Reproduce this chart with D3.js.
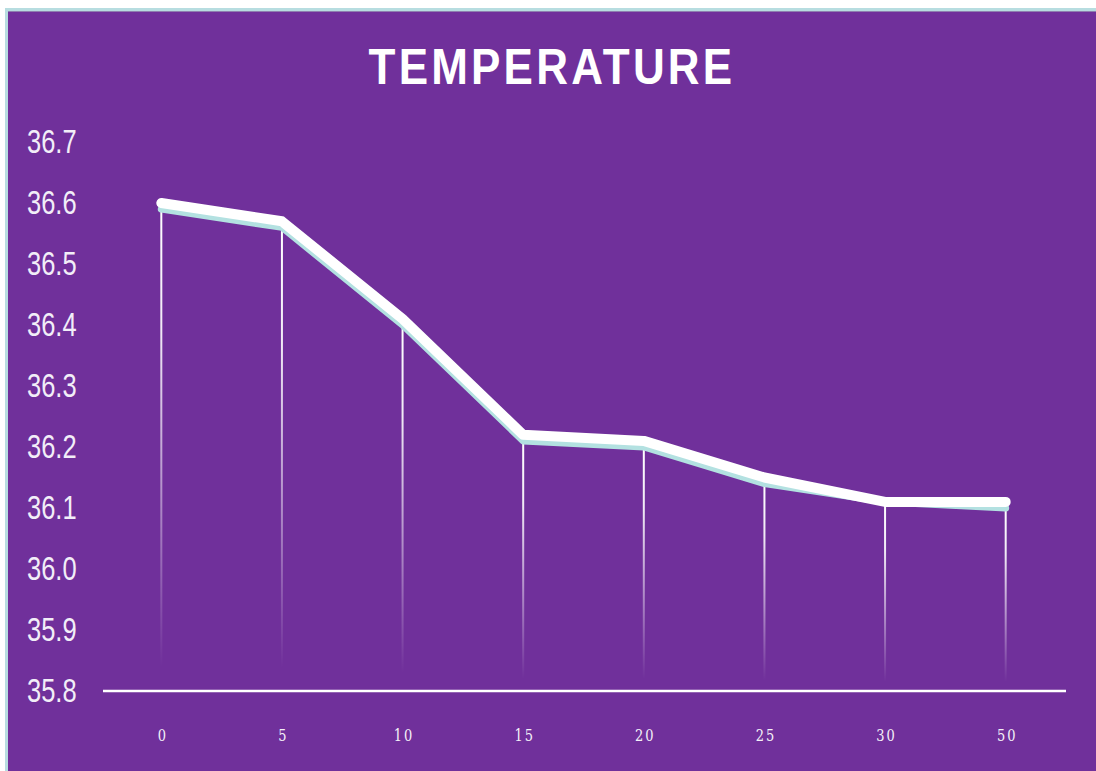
<!DOCTYPE html>
<html>
<head>
<meta charset="utf-8">
<script src="https://cdn.jsdelivr.net/npm/d3@7"></script>
<style>
  html, body { margin: 0; padding: 0; background: #ffffff; }
  svg { display: block; }
</style>
</head>
<body>
<div id="chart"></div>
<script>
// Sampling times (x categories)
const categories = ["0", "5", "10", "15", "20", "25", "30", "50"];
// Two temperature series
const seriesMain = [36.60, 36.57, 36.41, 36.22, 36.21, 36.15, 36.11, 36.11];
const seriesShadow = [36.59, 36.56, 36.40, 36.21, 36.20, 36.14, 36.11, 36.10];
// Y-axis tick labels
const yTicks = [35.8, 35.9, 36.0, 36.1, 36.2, 36.3, 36.4, 36.5, 36.6, 36.7];

const W = 1096, H = 771;
const svg = d3.select("#chart").append("svg").attr("width", W).attr("height", H);

// Frame: pale cyan edge on top and left, purple panel
svg.append("rect").attr("x", 5).attr("y", 8).attr("width", W - 5).attr("height", H - 8).attr("fill", "#b7dde0");
svg.append("rect").attr("x", 8).attr("y", 11).attr("width", W - 8).attr("height", H - 11).attr("fill", "#70309b");
svg.append("rect").attr("x", 8).attr("y", 11).attr("width", W - 8).attr("height", 1).attr("fill", "#8f7fb0");

const x = d3.scalePoint().domain(categories).range([101, 1066]).padding(0.5);
const y = d3.scaleLinear().domain([35.8, 36.7]).range([691, 142]);

// Title
svg.append("text")
  .attr("transform", "translate(552,84) scale(1,1.14)")
  .attr("text-anchor", "middle")
  .attr("font-family", "Liberation Sans, Arial, sans-serif")
  .attr("font-weight", "bold")
  .attr("font-size", 44)
  .attr("letter-spacing", 3.2)
  .attr("fill", "#ffffff")
  .text("TEMPERATURE");

// Y tick labels
svg.append("g").selectAll("text").data(yTicks).join("text")
  .attr("transform", d => `translate(27,${y(d) + 11}) scale(1,1.3)`)
  .attr("font-family", "Liberation Sans, Arial, sans-serif")
  .attr("font-size", 25.5)
  .attr("fill", "#f2eef8")
  .text(d => d.toFixed(1));

// X tick labels
svg.append("g").selectAll("text").data(categories).join("text")
  .attr("transform", d => `translate(${x(d) + 1.5},741) scale(1,1.3)`)
  .attr("text-anchor", "middle")
  .attr("font-family", "DejaVu Serif, Liberation Serif, serif")
  .attr("font-size", 13)
  .attr("letter-spacing", 2)
  .attr("fill", "#f4f0f8")
  .text(d => d);

// Fading gradient for the drop lines
const defs = svg.append("defs");
const grad = defs.append("linearGradient").attr("id", "dropFade")
  .attr("x1", 0).attr("y1", 0).attr("x2", 0).attr("y2", 1);
grad.append("stop").attr("offset", "0%").attr("stop-color", "#ffffff").attr("stop-opacity", 1);
grad.append("stop").attr("offset", "25%").attr("stop-color", "#ffffff").attr("stop-opacity", 0.9);
grad.append("stop").attr("offset", "95%").attr("stop-color", "#ffffff").attr("stop-opacity", 0);

// Drop lines from each point to the baseline
svg.append("g").selectAll("rect").data(categories).join("rect")
  .attr("x", d => x(d) - 1)
  .attr("y", (d, i) => y(seriesShadow[i]))
  .attr("width", 2)
  .attr("height", (d, i) => y(35.8) - y(seriesShadow[i]))
  .attr("fill", "url(#dropFade)");

// Baseline
svg.append("line")
  .attr("x1", 103).attr("x2", 1066)
  .attr("y1", y(35.8)).attr("y2", y(35.8))
  .attr("stroke", "#ffffff").attr("stroke-width", 2.5);

const line = d3.line().x((d, i) => x(categories[i])).y(d => y(d));

// Shadow series (pale teal)
svg.append("path").datum(seriesShadow)
  .attr("d", line)
  .attr("fill", "none")
  .attr("stroke", "#b3e1e1")
  .attr("stroke-width", 7)
  .attr("stroke-linecap", "round")
  .attr("stroke-linejoin", "round");

// Main series (white)
svg.append("path").datum(seriesMain)
  .attr("d", line)
  .attr("fill", "none")
  .attr("stroke", "#ffffff")
  .attr("stroke-width", 10)
  .attr("stroke-linecap", "round")
  .attr("stroke-linejoin", "round");
</script>
</body>
</html>
